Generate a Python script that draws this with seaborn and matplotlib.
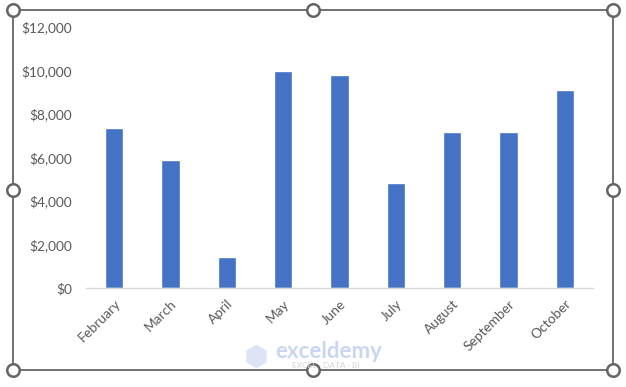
import matplotlib
matplotlib.use("Agg")
import matplotlib.pyplot as plt
import seaborn as sns
import pandas as pd
from matplotlib.lines import Line2D
from matplotlib.patches import Rectangle
from matplotlib.ticker import FuncFormatter

months = ["February", "March", "April", "May", "June", "July", "August", "September", "October"]
sales = [7350, 5900, 1430, 10000, 9800, 4830, 7170, 7170, 9100]
y_ticks = [0, 2000, 4000, 6000, 8000, 10000, 12000]

df = pd.DataFrame({"Month": months, "Sales": sales})

sns.set_theme(style="white")
plt.rcParams["font.family"] = ["Lato", "DejaVu Sans"]

W, H = 626, 387
fig = plt.figure(figsize=(W / 100, H / 100), dpi=100)
ax = fig.add_axes([86 / W, 1 - 288 / H, (593 - 86) / W, (288 - 27) / H])

sns.barplot(data=df, x="Month", y="Sales", color="#4472C4", width=0.32,
            saturation=1, ax=ax)

ax.set_ylim(0, 12000)
ax.set_yticks(y_ticks)
ax.yaxis.set_major_formatter(FuncFormatter(lambda v, p: f"${v:,.0f}"))
ax.set_xlabel("")
ax.set_ylabel("")
for s in ["top", "right", "left"]:
    ax.spines[s].set_visible(False)
ax.spines["bottom"].set_color("#D9D9D9")
ax.spines["bottom"].set_linewidth(1)
ax.tick_params(axis="both", length=0, colors="#595959", labelsize=9.8)
ax.tick_params(axis="y", pad=10)
ax.tick_params(axis="x", pad=7)
for lbl in ax.get_xticklabels():
    lbl.set_rotation(45)
    lbl.set_ha("right")
    lbl.set_rotation_mode("anchor")
    lbl.set_color("#595959")

# watermark
fig.add_artist(Line2D([256 / W], [1 - 356 / H], marker="h", markersize=17,
                      markerfacecolor="#DCE4F5", markeredgecolor="none",
                      transform=fig.transFigure))
fig.text(329 / W, 1 - 351 / H, "exceldemy", color="#C9D6F2", fontsize=16,
         fontweight="bold", ha="center", va="center")
fig.text(326 / W, 1 - 365 / H, "EXCEL · DATA · BI", color="#D5D5D5", fontsize=6,
         ha="center", va="center")

# selection frame
x0, x1, y0, y1 = 13 / W, 613 / W, 1 - 370 / H, 1 - 10 / H
fig.add_artist(Rectangle((x0, y0), x1 - x0, y1 - y0, transform=fig.transFigure,
                         fill=False, edgecolor="#646464", linewidth=1.3))
xm, ym = (x0 + x1) / 2, (y0 + y1) / 2
for hx, hy in [(x0, y0), (xm, y0), (x1, y0), (x0, ym), (x1, ym), (x0, y1), (xm, y1), (x1, y1)]:
    fig.add_artist(Line2D([hx], [hy], marker="o", markersize=9, markerfacecolor="white",
                          markeredgecolor="#646464", markeredgewidth=1.8,
                          transform=fig.transFigure))

fig.savefig("out.png", dpi=100, facecolor="white")
